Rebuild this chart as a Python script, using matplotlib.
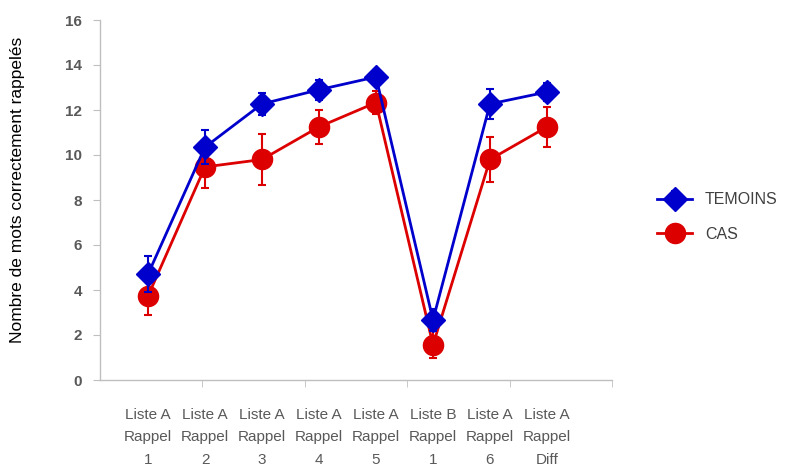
import matplotlib
matplotlib.use("Agg")
import matplotlib.pyplot as plt
from matplotlib.ticker import FixedLocator

categories = ["Liste A\nRappel\n1", "Liste A\nRappel\n2", "Liste A\nRappel\n3", "Liste A\nRappel\n4",
              "Liste A\nRappel\n5", "Liste B\nRappel\n1", "Liste A\nRappel\n6", "Liste A\nRappel\nDiff"]
temoins = [4.7, 10.35, 12.27, 12.9, 13.47, 2.67, 12.27, 12.8]
temoins_err = [0.8, 0.75, 0.5, 0.45, 0.3, 0.5, 0.65, 0.4]
cas = [3.73, 9.47, 9.8, 11.25, 12.33, 1.56, 9.8, 11.25]
cas_err = [0.85, 0.95, 1.15, 0.75, 0.5, 0.6, 1.0, 0.9]
yticks = [0, 2, 4, 6, 8, 10, 12, 14, 16]

narrow = ['Liberation Sans Narrow', 'Liberation Sans', 'DejaVu Sans']

fig = plt.figure(figsize=(7.87, 4.71), dpi=100)
ax = fig.add_axes([100/787, 1-380/471, 512/787, 360/471])

x = list(range(1, len(categories) + 1))
blue = '#0000CC'
red = '#DD0000'
ax.errorbar(x, temoins, yerr=temoins_err, color=blue, lw=2, marker='D', markersize=12,
            capsize=3, elinewidth=1.5, capthick=1.5, label='TEMOINS', zorder=3)
ax.errorbar(x, cas, yerr=cas_err, color=red, lw=2, marker='o', markersize=14.5,
            capsize=3, elinewidth=1.5, capthick=1.5, label='CAS', zorder=2)

left = 1 - 48/57
right = 8 + 65/57
ax.set_xlim(left, right)
ax.set_ylim(0, 16)

ax.set_xticks(x)
ax.set_xticklabels(categories, fontfamily=narrow, fontsize=11, color='#595959', linespacing=1.78)
ax.tick_params(axis='x', which='major', length=0, pad=20)
step = (right - left) / 5
ax.xaxis.set_minor_locator(FixedLocator([left + step*i for i in range(1, 6)]))
ax.tick_params(axis='x', which='minor', length=5, color='#bfbfbf', direction='out')

ax.set_yticks(yticks)
ax.set_yticklabels([str(v) for v in yticks], fontsize=11, color='#595959', fontfamily=narrow,
                   fontweight='bold')
ax.tick_params(axis='y', length=5, color='#bfbfbf', direction='out', pad=8)

for s in ['top', 'right']:
    ax.spines[s].set_visible(False)
for s in ['left', 'bottom']:
    ax.spines[s].set_color('#bfbfbf')
    ax.spines[s].set_linewidth(1)

ax.set_ylabel('Nombre de mots correctement rappelés', fontfamily=narrow, fontsize=12.5,
              color='black')
ax.yaxis.set_label_coords(-0.147, 0.528)

leg = ax.legend(loc='center left', bbox_to_anchor=(1.06, 0.453), frameon=False,
                prop={'family': narrow, 'size': 11.5}, handlelength=2.2, labelspacing=1.2,
                handletextpad=0.8)
for t in leg.get_texts():
    t.set_color('#404040')

fig.savefig('out.png', dpi=100)
